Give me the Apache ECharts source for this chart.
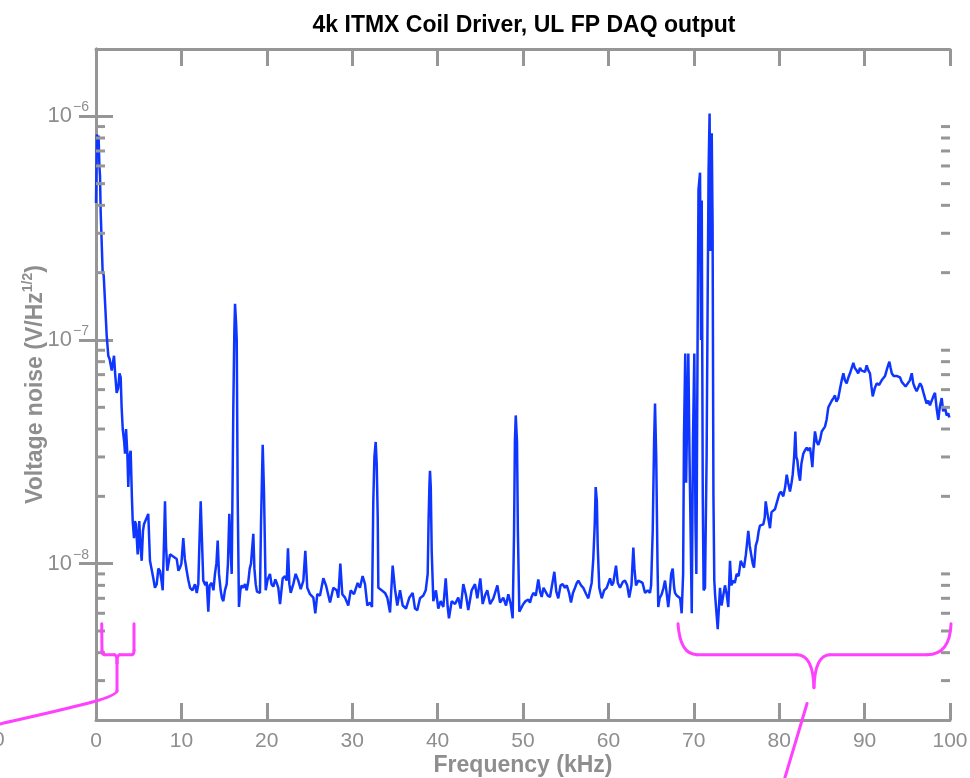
<!DOCTYPE html>
<html><head><meta charset="utf-8">
<script src="https://cdn.jsdelivr.net/npm/echarts@6/dist/echarts.min.js"></script>
<style>html,body{margin:0;padding:0;background:#fff}#c{width:970px;height:778px}</style>
</head><body><div id="c"></div>
<script>
const titleText = '4k ITMX Coil Driver, UL FP DAQ output';
const xName = 'Frequency (kHz)';
const xTickValues = [0,10,20,30,40,50,60,70,80,90,100];
const yMajorTickValues = [1e-8, 1e-7, 1e-6];
const yMinorTickValues = [3e-9,4e-9,5e-9,6e-9,7e-9,8e-9,9e-9,2e-8,3e-8,4e-8,5e-8,6e-8,7e-8,8e-8,9e-8,2e-7,3e-7,4e-7,5e-7,6e-7,7e-7,8e-7,9e-7];

// [frequency kHz, voltage noise V/rtHz]
const spectrum = [
[0.0,4.1e-7],[0.1,8.3e-7],[0.2,7.6e-7],[0.3,8.2e-7],[0.4,6.0e-7],[0.47,5.4e-7],[0.55,3.7e-7],[0.67,2.7e-7],[0.78,2.0e-7],[0.9,1.95e-7],
[1.05,1.5e-7],[1.25,1.05e-7],[1.44,8.5e-8],[1.6,8.2e-8],[1.84,7.3e-8],[2.0,8.0e-8],[2.11,8.5e-8],[2.25,7.0e-8],[2.42,5.8e-8],[2.6,6.1e-8],
[2.75,7.1e-8],[2.89,6.8e-8],[3.0,5.0e-8],[3.13,4.0e-8],[3.3,3.5e-8],[3.4,3.1e-8],[3.52,4.0e-8],[3.67,3.1e-8],[3.78,2.2e-8],[3.9,3.0e-8],
[4.06,3.2e-8],[4.2,2.0e-8],[4.3,1.55e-8],[4.45,1.3e-8],[4.55,1.55e-8],[4.68,1.5e-8],[4.88,1.1e-8],[5.07,1.55e-8],[5.2,1.2e-8],[5.35,1.03e-8],
[5.5,1.4e-8],[5.62,1.5e-8],[5.85,1.5e-8],[6.12,1.67e-8],[6.32,1.03e-8],[6.5,9.5e-9],[6.71,8.6e-9],[6.9,7.8e-9],[7.11,8.1e-9],[7.3,9.5e-9],
[7.49,9.3e-9],[7.65,8.5e-9],[7.81,7.6e-9],[7.95,1.2e-8],[8.08,1.9e-8],[8.2,1.2e-8],[8.35,9.3e-9],[8.67,1.1e-8],[9.0,1.08e-8],[9.2,1.07e-8],
[9.45,1.05e-8],[9.65,9.3e-9],[9.84,9.6e-9],[10.0,1.0e-8],[10.22,1.3e-8],[10.4,1.05e-8],[10.62,9.3e-9],[10.8,8.5e-9],[11.01,7.8e-9],[11.3,7.6e-9],
[11.59,8.1e-9],[11.8,7.4e-9],[11.98,8.1e-9],[12.1,1.2e-8],[12.26,1.9e-8],[12.4,1.3e-8],[12.56,8.4e-9],[12.8,8.0e-9],[12.96,8.3e-9],[13.15,6.1e-9],
[13.3,8.0e-9],[13.55,8.2e-9],[13.75,7.6e-9],[13.93,9.0e-9],[14.1,1.0e-8],[14.25,1.27e-8],[14.4,9.0e-9],[14.6,7.6e-9],[14.75,7.0e-9],[14.91,6.8e-9],
[15.1,7.6e-9],[15.3,8.1e-9],[15.45,1.0e-8],[15.61,1.67e-8],[15.75,1.2e-8],[15.89,9.0e-9],[16.08,5.0e-8],[16.2,1.1e-7],[16.28,1.45e-7],[16.4,1.2e-7],
[16.48,1.0e-7],[16.59,2.0e-8],[16.74,6.4e-9],[16.9,7.6e-9],[17.06,8.0e-9],[17.25,7.8e-9],[17.45,8.1e-9],[17.65,7.6e-9],[17.83,8.3e-9],[18.0,9.5e-9],
[18.15,1.0e-8],[18.42,1.36e-8],[18.55,9.5e-9],[18.7,8.1e-9],[18.85,7.5e-9],[19.0,7.6e-9],[19.2,7.4e-9],[19.32,1.5e-8],[19.52,3.4e-8],[19.67,2.1e-8],
[19.87,7.6e-9],[20.1,8.5e-9],[20.37,9.0e-9],[20.55,8.1e-9],[20.76,7.9e-9],[21.0,8.5e-9],[21.16,8.2e-9],[21.35,7.8e-9],
[21.55,6.6e-9],[21.86,8.6e-9],[22.13,8.8e-9],[22.33,8.4e-9],[22.48,1.17e-8],[22.64,8.1e-9],[22.8,7.4e-9],[23.1,8.1e-9],[23.38,9.0e-9],[23.69,8.4e-9],
[23.97,7.7e-9],[24.28,8.4e-9],[24.51,1.14e-8],[24.74,7.8e-9],[25.06,7.3e-9],[25.45,7.05e-9],[25.68,6.0e-9],[25.91,7.3e-9],[26.23,7.2e-9],[26.62,8.6e-9],
[26.93,8.0e-9],[27.4,6.7e-9],[27.79,7.8e-9],[28.18,7.6e-9],[28.37,7.05e-9],[28.61,1.0e-8],[28.84,7.3e-9],[29.16,7.05e-9],[29.54,6.5e-9],[29.82,7.6e-9],
[30.21,7.3e-9],[30.64,8.2e-9],[30.91,7.8e-9],[31.22,8.8e-9],[31.5,8.1e-9],[31.77,6.5e-9],[32.08,6.7e-9],[32.32,6.4e-9],[32.47,1.9e-8],[32.6,3.0e-8],
[32.75,3.5e-8],[32.87,2.8e-8],[32.99,1.6e-8],[33.06,7.8e-9],[33.45,7.6e-9],[33.84,7.4e-9],[34.11,7.05e-9],[34.43,6.05e-9],[34.74,9.8e-9],[35.01,7.7e-9],
[35.28,6.5e-9],[35.6,7.6e-9],[35.91,6.5e-9],[36.3,6.3e-9],[36.69,7.05e-9],[37.08,7.4e-9],[37.35,6.3e-9],[37.62,6.2e-9],[37.94,7.0e-9],[38.33,7.2e-9],
[38.61,7.6e-9],[38.84,9.0e-9],[38.95,1.6e-8],[39.05,2.3e-8],[39.11,2.6e-8],[39.2,2.2e-8],[39.31,1.14e-8],[39.5,6.8e-9],[39.81,7.6e-9],[40.08,6.3e-9],
[40.36,6.8e-9],[40.67,6.4e-9],[40.95,8.6e-9],[41.18,6.4e-9],[41.33,5.7e-9],[41.65,6.8e-9],[42.04,6.6e-9],[42.42,7.05e-9],[42.7,6.3e-9],[43.01,8.1e-9],
[43.33,7.2e-9],[43.59,6.2e-9],[43.99,7.6e-9],[44.38,8.1e-9],[44.65,7.0e-9],[45.0,8.6e-9],[45.28,6.6e-9],[45.55,7.2e-9],[45.82,7.6e-9],[46.14,6.6e-9],
[46.53,7.0e-9],[47.0,8.0e-9],[47.31,6.7e-9],[47.69,7.05e-9],[48.01,6.5e-9],[48.28,7.3e-9],[48.56,6.6e-9],[48.79,5.7e-9],[48.95,1.36e-8],
[49.05,3.5e-8],[49.15,4.6e-8],[49.3,3.5e-8],[49.4,1.4e-8],[49.57,6.1e-9],[49.8,6.2e-9],[50.04,6.6e-9],[50.3,6.8e-9],[50.62,6.9e-9],[50.82,6.7e-9],
[51.0,7.1e-9],[51.21,7.4e-9],[51.5,7.2e-9],[51.79,8.5e-9],[52.0,7.5e-9],[52.19,7.1e-9],[52.4,7.8e-9],[52.58,7.8e-9],[52.9,7.2e-9],[53.16,7.1e-9],
[53.4,8.0e-9],[53.67,9.2e-9],[53.9,7.5e-9],[54.13,7.0e-9],[54.4,8.0e-9],[54.65,8.1e-9],[54.9,7.8e-9],[55.12,8.0e-9],[55.4,7.4e-9],[55.62,6.7e-9],
[55.85,7.4e-9],[56.09,7.8e-9],[56.3,8.2e-9],[56.48,8.4e-9],[56.8,8.0e-9],[57.06,7.8e-9],[57.4,7.3e-9],[57.65,7.0e-9],[57.85,7.6e-9],[58.04,8.2e-9],
[58.23,1.05e-8],[58.4,1.5e-8],[58.51,2.2e-8],[58.65,1.9e-8],[58.75,1.2e-8],[58.93,7.8e-9],[59.22,7.0e-9],[59.5,7.6e-9],[59.8,7.8e-9],[60.19,8.6e-9],
[60.4,8.0e-9],[60.57,8.2e-9],[60.89,9.8e-9],[61.1,8.2e-9],[61.36,7.8e-9],[61.7,8.3e-9],[61.94,8.4e-9],[62.2,8.0e-9],[62.44,7.05e-9],[62.7,8.0e-9],
[62.92,1.18e-8],[63.05,9.5e-9],[63.23,8.0e-9],[63.5,8.4e-9],[63.7,8.4e-9],[64.0,8.2e-9],[64.29,7.4e-9],[64.6,7.6e-9],[64.87,7.4e-9],[65.0,8.0e-9],
[65.19,1.4e-8],[65.35,3.5e-8],[65.46,5.2e-8],[65.6,3.0e-8],[65.75,1.0e-8],[65.84,6.4e-9],[66.0,7.0e-9],[66.24,7.3e-9],[66.45,7.8e-9],[66.63,8.4e-9],
[66.8,7.5e-9],[67.01,6.4e-9],[67.2,7.6e-9],[67.35,9.0e-9],[67.53,9.5e-9],[67.7,7.8e-9],[67.8,7.4e-9],[68.0,7.2e-9],[68.18,7.2e-9],[68.4,7.0e-9],
[68.58,6.0e-9],[68.75,9.0e-9],[68.85,3.7e-8],[69.0,8.7e-8],[69.1,2.3e-8],[69.2,4.0e-8],[69.36,8.7e-8],[69.5,3.0e-8],[69.65,1.2e-8],[69.76,6.0e-9],
[69.9,3.5e-8],[70.06,8.7e-8],[70.2,1.5e-8],[70.3,9.0e-9],[70.45,1.1e-7],[70.55,4.7e-7],[70.73,5.6e-7],[70.85,1.0e-7],[70.93,4.2e-7],[71.05,2.0e-8],
[71.15,7.6e-9],[71.31,7.8e-9],[71.5,3.0e-8],[71.63,1.66e-7],[71.73,5.7e-7],[71.85,1.03e-6],[71.95,2.5e-7],[72.1,8.4e-7],[72.2,3.3e-7],[72.3,2.0e-8],
[72.4,8.4e-9],[72.5,7.2e-9],[72.8,5.1e-9],[73.07,7.8e-9],[73.25,6.5e-9],[73.45,6.6e-9],[73.65,8.0e-9],[73.85,7.3e-9],[74.04,6.4e-9],[74.24,1.03e-8],
[74.4,8.0e-9],[74.63,8.4e-9],[74.8,8.2e-9],[75.02,9.0e-9],[75.25,8.8e-9],[75.49,1.03e-8],[75.7,1.05e-8],[75.88,9.6e-9],[76.1,1.1e-8],[76.38,1.4e-8],
[76.55,1.2e-8],[76.7,1.18e-8],[76.9,1.0e-8],[77.05,9.6e-9],[77.25,1.2e-8],[77.44,1.27e-8],[77.6,1.4e-8],[77.75,1.48e-8],[77.95,1.45e-8],[78.14,1.5e-8],
[78.3,1.6e-8],[78.42,1.9e-8],[78.6,1.7e-8],[78.72,1.67e-8],[78.92,1.44e-8],[79.1,1.7e-8],[79.24,1.67e-8],[79.5,1.75e-8],[79.71,1.78e-8],[80.01,2.05e-8],
[80.2,2.1e-8],[80.48,2.0e-8],[80.7,2.2e-8],[80.88,2.5e-8],[81.05,2.3e-8],[81.26,2.1e-8],[81.45,2.3e-8],[81.58,2.5e-8],[81.75,3.0e-8],[81.89,3.9e-8],
[82.0,3.0e-8],[82.12,2.9e-8],[82.3,2.5e-8],[82.44,2.35e-8],[82.6,2.8e-8],[82.82,3.1e-8],[83.0,3.2e-8],[83.22,3.3e-8],[83.4,3.2e-8],[83.61,3.3e-8],
[83.75,3.0e-8],[83.88,2.7e-8],[84.0,3.2e-8],[84.19,3.9e-8],[84.4,3.5e-8],[84.58,3.4e-8],[84.8,3.6e-8],[84.98,3.9e-8],[85.2,3.9e-8],[85.36,4.1e-8],
[85.55,4.4e-8],[85.75,5.0e-8],[85.95,5.1e-8],[86.15,5.35e-8],[86.35,5.5e-8],[86.53,5.65e-8],[86.7,5.3e-8],[86.92,5.5e-8],[87.1,6.0e-8],[87.32,6.6e-8],
[87.51,7.1e-8],[87.7,6.6e-8],[87.9,6.4e-8],[88.1,6.8e-8],[88.29,7.1e-8],[88.5,7.2e-8],[88.68,7.9e-8],[88.85,7.5e-8],[89.07,7.3e-8],[89.25,7.1e-8],
[89.46,7.5e-8],[89.65,7.3e-8],[89.85,7.4e-8],[90.05,7.2e-8],[90.24,7.7e-8],[90.45,7.3e-8],[90.63,7.1e-8],[90.8,6.2e-8],[90.95,5.6e-8],[91.2,6.1e-8],
[91.42,6.4e-8],[91.7,6.3e-8],[92.0,6.6e-8],[92.2,6.5e-8],[92.39,6.9e-8],[92.66,7.5e-8],[92.9,8.0e-8],[93.05,7.5e-8],[93.18,7.1e-8],[93.4,6.9e-8],
[93.56,6.8e-8],[93.8,6.9e-8],[94.15,6.8e-8],[94.35,6.5e-8],[94.53,6.4e-8],[94.8,6.2e-8],[95.0,6.1e-8],[95.3,6.6e-8],[95.52,7.1e-8],[95.7,6.4e-8],
[95.9,6.1e-8],[96.1,5.9e-8],[96.29,6.0e-8],[96.5,6.4e-8],[96.69,6.2e-8],[96.9,5.8e-8],[97.07,5.5e-8],[97.25,5.2e-8],[97.46,5.35e-8],[97.65,5.1e-8],
[97.86,5.0e-8],[98.05,5.6e-8],[98.24,5.8e-8],[98.45,4.9e-8],[98.63,4.4e-8],[98.8,5.0e-8],[99.03,5.5e-8],[99.2,4.8e-8],[99.41,5.0e-8],[99.61,4.6e-8],
[99.8,4.7e-8],[99.92,4.5e-8]
];

// Hand-drawn magenta annotations, in data coordinates (kHz, V/rtHz)
const braceSmall = [
  ['L', [0.67,5.39e-9], [0.70,4.1e-9]],
  ['Q', [0.70,4.1e-9], [0.70,3.92e-9], [1.0,3.92e-9]],
  ['L', [1.0,3.92e-9], [2.15,3.92e-9]],
  ['Q', [2.15,3.92e-9], [2.46,3.92e-9], [2.46,3.6e-9]],
  ['L', [2.46,3.6e-9], [2.46,2.7e-9]],
  ['Q', [2.46,3.6e-9], [2.46,3.92e-9], [2.8,3.92e-9]],
  ['L', [2.8,3.92e-9], [4.2,3.92e-9]],
  ['Q', [4.2,3.92e-9], [4.45,3.92e-9], [4.45,4.1e-9]],
  ['L', [4.45,4.1e-9], [4.45,5.39e-9]],
  ['C', [2.46,2.7e-9], [2.34,2.51e-9], [-1.87,2.32e-9], [-11.24,1.92e-9]]
];
const braceLarge = [
  ['Q', [68.15,5.39e-9], [68.38,3.92e-9], [70.37,3.92e-9]],
  ['L', [70.37,3.92e-9], [82.08,3.92e-9]],
  ['Q', [82.08,3.92e-9], [83.96,3.92e-9], [84.07,2.79e-9]],
  ['Q', [84.07,2.79e-9], [84.19,3.92e-9], [85.95,3.92e-9]],
  ['L', [85.95,3.92e-9], [97.31,3.92e-9]],
  ['Q', [97.31,3.92e-9], [100.0,3.92e-9], [100.12,5.39e-9]],
  ['L', [83.26,2.37e-9], [80.21,9.65e-10]]
];

const AX = '#969696';
const LBL = '#8e8e8e';
const MAG = '#ff40ff';
const FONT = '"Liberation Sans", Arial, Helvetica, sans-serif';

const chart = echarts.init(document.getElementById('c'), null, {renderer: 'canvas'});

function axisCommon() {
  return {
    axisLine: {show: true, lineStyle: {color: AX, width: 3}},
    axisTick: {show: true, inside: true, length: 17, lineStyle: {color: AX, width: 3}},
    splitLine: {show: false}
  };
}

function yLabel(v) {
  const e = Math.log10(v);
  const r = Math.round(e);
  if (Math.abs(e - r) > 1e-6) return '';
  return '{b|10}{s|\u2212' + (-r) + '}';
}

const option = {
  animation: false,
  backgroundColor: '#fff',
  title: {
    text: titleText, left: 519, top: 9, textAlign: 'center',
    textStyle: {fontFamily: FONT, fontSize: 23, fontWeight: 'bold', color: '#000'}
  },
  grid: {left: 96, right: 20, top: 49, bottom: 58, containLabel: false, outerBoundsMode: 'none'},
  xAxis: [
    Object.assign(axisCommon(), {
      type: 'value', min: 0, max: 100, interval: 10, position: 'bottom',
      name: xName, nameLocation: 'middle', nameGap: 34, nameMoveOverlap: false,
      nameTextStyle: {fontFamily: FONT, fontSize: 23, fontWeight: 'bold', color: LBL},
      axisLabel: {margin: 11, fontFamily: FONT, fontSize: 21, color: LBL,
        formatter: function (v) { return xTickValues.indexOf(v) >= 0 ? String(v) : ''; }}
    }),
    Object.assign(axisCommon(), {
      type: 'value', min: 0, max: 100, interval: 10, position: 'top',
      axisLabel: {show: false}
    })
  ],
  yAxis: [
    Object.assign(axisCommon(), {
      type: 'log', logBase: 10, min: 2e-9, max: 2e-6, position: 'left',
      name: '{a|Voltage noise (V/Hz}{s|1/2}{a|)}', nameLocation: 'middle', nameGap: 49,
      nameRotate: 90, nameMoveOverlap: false,
      nameTextStyle: {
        rich: {
          a: {fontFamily: FONT, fontSize: 23, fontWeight: 'bold', color: LBL, lineHeight: 25, verticalAlign: 'bottom'},
          s: {fontFamily: FONT, fontSize: 14, fontWeight: 'bold', color: LBL, lineHeight: 14, padding: [0, 0, 12, 0], verticalAlign: 'bottom'}
        }
      },
      axisTick: {show: true, inside: true, length: 17, lineStyle: {color: AX, width: 3}, customValues: yMajorTickValues},
      axisLabel: {
        margin: 7, formatter: yLabel, customValues: yMajorTickValues,
        rich: {
          b: {fontFamily: FONT, fontSize: 22, color: LBL, lineHeight: 22, verticalAlign: 'bottom'},
          s: {fontFamily: FONT, fontSize: 14, color: LBL, lineHeight: 14, padding: [0, 0, 13, 1], verticalAlign: 'bottom'}
        }
      }
    }),
    Object.assign(axisCommon(), {
      type: 'log', logBase: 10, min: 2e-9, max: 2e-6, position: 'right',
      axisTick: {show: true, inside: true, length: 17, lineStyle: {color: AX, width: 3}, customValues: yMajorTickValues},
      axisLabel: {show: false}
    })
  ],
  graphic: [
    {type: 'text', left: -7, top: 730, style: {text: '0', fontFamily: FONT, fontSize: 21, fill: LBL}}
  ],
  series: [
    {
      type: 'line', xAxisIndex: 0, yAxisIndex: 0, showSymbol: false, symbol: 'none',
      data: spectrum,
      lineStyle: {color: '#0f36ff', width: 2.5}, z: 3, silent: true
    },
    {
      type: 'custom', xAxisIndex: 0, yAxisIndex: 0, clip: false, silent: true, z: 5,
      data: yMinorTickValues.map(function (v) { return [0, v]; }),
      encode: {x: 0, y: 1},
      renderItem: function (params, api) {
        const v = api.value(1);
        const pL = api.coord([0, v]);
        const pR = api.coord([100, v]);
        const st = {stroke: AX, lineWidth: 3};
        return {type: 'group', children: [
          {type: 'line', shape: {x1: pL[0], y1: pL[1], x2: pL[0] + 9, y2: pL[1]}, style: st},
          {type: 'line', shape: {x1: pR[0], y1: pR[1], x2: pR[0] - 9, y2: pR[1]}, style: st}
        ]};
      }
    },
    {
      type: 'custom', xAxisIndex: 0, yAxisIndex: 0, clip: false, silent: true, z: 10,
      data: [[0, 1e-8]],
      encode: {x: 0, y: 1},
      renderItem: function (params, api) {
        const st = {stroke: MAG, lineWidth: 3, fill: null, lineCap: 'round', lineJoin: 'round'};
        const kids = [];
        braceSmall.concat(braceLarge).forEach(function (seg) {
          const p = seg.slice(1).map(function (d) { return api.coord(d); });
          if (seg[0] === 'L') {
            kids.push({type: 'line', shape: {x1: p[0][0], y1: p[0][1], x2: p[1][0], y2: p[1][1]}, style: st});
          } else if (seg[0] === 'Q') {
            kids.push({type: 'bezierCurve', shape: {x1: p[0][0], y1: p[0][1], cpx1: p[1][0], cpy1: p[1][1], x2: p[2][0], y2: p[2][1]}, style: st});
          } else {
            kids.push({type: 'bezierCurve', shape: {x1: p[0][0], y1: p[0][1], cpx1: p[1][0], cpy1: p[1][1], cpx2: p[2][0], cpy2: p[2][1], x2: p[3][0], y2: p[3][1]}, style: st});
          }
        });
        return {type: 'group', children: kids};
      }
    }
  ]
};
chart.setOption(option);
</script>
</body></html>
